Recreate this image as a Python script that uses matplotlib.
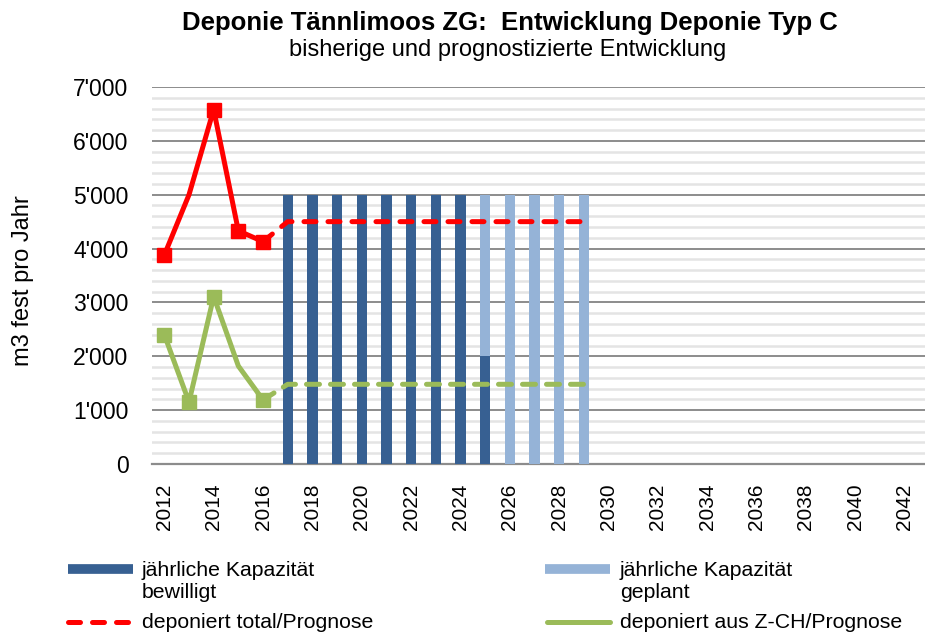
import matplotlib
matplotlib.use("Agg")
import matplotlib.pyplot as plt
from matplotlib.lines import Line2D
from matplotlib.ticker import FuncFormatter, MultipleLocator

years = list(range(2012, 2043))

# historical (solid) series
hist_years = [2012, 2013, 2014, 2015, 2016]
total_hist = [3880, 5000, 6580, 4330, 4130]
zch_hist = [2400, 1150, 3110, 1820, 1190]
total_marker_years = [2012, 2014, 2015, 2016]
total_marker_vals = [3880, 6580, 4330, 4130]
zch_marker_years = [2012, 2013, 2014, 2016]
zch_marker_vals = [2400, 1150, 3110, 1190]

# forecast (dashed) series
prog_years = [2016] + list(range(2017, 2030))
total_prog = [4130] + [4500] * 13
zch_prog = [1190] + [1480] * 13

# capacities
bew_years = list(range(2017, 2026))
bew_vals = [5000, 5000, 5000, 5000, 5000, 5000, 5000, 5000, 2000]
gep_years = list(range(2025, 2030))
gep_vals = [3000, 5000, 5000, 5000, 5000]
gep_bottom = [2000, 0, 0, 0, 0]

DARK = "#376092"
LIGHT = "#95B3D7"
RED = "#FF0000"
GREEN = "#9BBB59"

plt.rcParams['font.family'] = ['Liberation Sans', 'DejaVu Sans']

fig = plt.figure(figsize=(9.25, 6.34), dpi=100)
ax = fig.add_axes([152/925, 1-464/634, 1-152/925, (464-87)/634])

idx = {y: i for i, y in enumerate(years)}
def xi(ys):
    return [idx[y] for y in ys]

w = 0.42
ax.bar(xi(bew_years), bew_vals, width=w, color=DARK, zorder=3)
ax.bar(xi(gep_years), gep_vals, bottom=gep_bottom, width=w, color=LIGHT, zorder=3)

ax.plot(xi(hist_years), total_hist, color=RED, lw=3.6, zorder=5, solid_joinstyle='round')
ax.plot(xi(total_marker_years), total_marker_vals, ls='none', marker='s', ms=10,
        color=RED, zorder=6)
ax.plot(xi(prog_years), total_prog, color=RED, lw=3.6, ls=(0, (2.4, 2.4)),
        dash_capstyle='round', zorder=5)

ax.plot(xi(hist_years), zch_hist, color=GREEN, lw=3.6, zorder=5, solid_joinstyle='round')
ax.plot(xi(zch_marker_years), zch_marker_vals, ls='none', marker='s', ms=10,
        color=GREEN, zorder=6)
ax.plot(xi(prog_years), zch_prog, color=GREEN, lw=3.6, ls=(0, (2.6, 2.2)),
        dash_capstyle='round', zorder=5)

ax.set_ylim(0, 7000)
ax.set_xlim(-0.5, -0.5 + (925-152)/24.67)
ax.yaxis.set_major_locator(MultipleLocator(1000))
ax.yaxis.set_minor_locator(MultipleLocator(200))
ax.yaxis.set_major_formatter(FuncFormatter(lambda v, p: f"{int(v):,}".replace(",", "'")))
ax.grid(axis='y', which='major', color='#8c8c8c', lw=1.4, zorder=1)
ax.grid(axis='y', which='minor', color='#e4e4e4', lw=1.8, zorder=0)
ax.set_axisbelow(True)

tick_years = years[::2]
ax.set_xticks(xi(tick_years))
ax.set_xticklabels([str(y) for y in tick_years], rotation=90, fontsize=15)
ax.tick_params(axis='x', length=0, pad=14)
ax.tick_params(axis='y', which='both', length=0, pad=17, labelsize=16.5)

for s in ['top', 'right', 'left']:
    ax.spines[s].set_visible(False)
ax.spines['bottom'].set_color('#8c8c8c')
ax.spines['bottom'].set_linewidth(1.6)

def fx(px):
    return px/925
def fy(py):
    return 1-py/634

fig.text(fx(23), fy(281), "m3 fest pro Jahr", rotation=90, ha='center', va='center',
         fontsize=17)

fig.text(fx(510), fy(23), "Deponie Tännlimoos ZG:  Entwicklung Deponie Typ C",
         ha='center', va='center', fontsize=18.5, fontweight='bold')
fig.text(fx(508), fy(50), "bisherige und prognostizierte Entwicklung",
         ha='center', va='center', fontsize=17)

# legend drawn manually in figure coordinates
fig.add_artist(Line2D([fx(68), fx(133)], [fy(569), fy(569)], color=DARK, lw=7,
                      solid_capstyle='butt'))
fig.add_artist(Line2D([fx(545), fx(610)], [fy(569), fy(569)], color=LIGHT, lw=7,
                      solid_capstyle='butt'))
fig.add_artist(Line2D([fx(68), fx(128)], [fy(622), fy(622)], color=RED, lw=3.6,
                      ls=(0, (2.4, 2.4)), dash_capstyle='round'))
fig.add_artist(Line2D([fx(547), fx(610)], [fy(622), fy(622)], color=GREEN, lw=3.6,
                      solid_capstyle='round'))

lt = dict(fontsize=15.3, va='center', ha='left')
fig.text(fx(142), fy(570), "jährliche Kapazität", **lt)
fig.text(fx(142), fy(593), "bewilligt", **lt)
fig.text(fx(620), fy(570), "jährliche Kapazität", **lt)
fig.text(fx(620), fy(593), "geplant", **lt)
fig.text(fx(142), fy(622), "deponiert total/Prognose", **lt)
fig.text(fx(620), fy(622), "deponiert aus Z-CH/Prognose", **lt)

fig.savefig("out.png", dpi=100)
